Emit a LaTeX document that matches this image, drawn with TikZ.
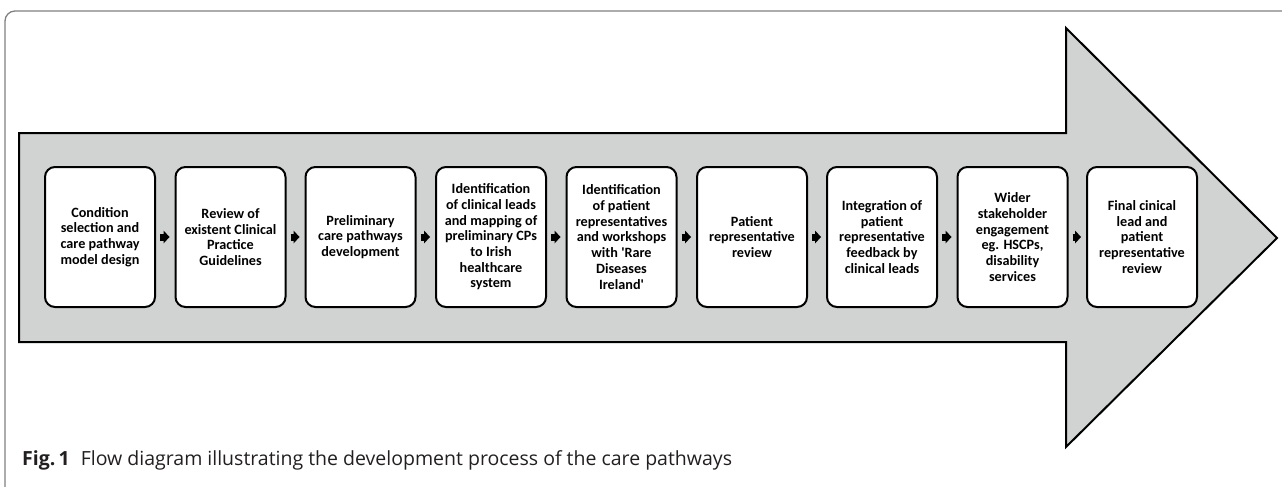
\documentclass[tikz,border=0pt]{standalone}
\usepackage{fontspec}
\setmainfont{Carlito}
\newfontfamily\capfont{Open Sans}
\usepackage{tikz}
\usetikzlibrary{arrows.meta,positioning}
\definecolor{shaftgray}{HTML}{D1D3D2}
\definecolor{framegray}{HTML}{808080}
\definecolor{captext}{HTML}{231F20}

\tikzset{
  stage/.style={draw, line width=2pt, fill=white, rounded corners=10pt,
    minimum width=110pt, minimum height=140pt, inner sep=0pt, align=center,
    font=\fontsize{14.2}{15.7}\selectfont\bfseries},
  flow/.style={line width=7pt, shorten <=4pt, shorten >=5pt,
    -{Triangle[length=6pt,width=13pt,line width=0pt]}},
}

\begin{document}
\begin{tikzpicture}[x=1pt,y=-1pt]
\useasboundingbox (0,0) rectangle (1282,487);
% frame and big arrow
\draw[framegray, line width=1.3pt, rounded corners=10pt] (1300,11) -- (5,11) -- (5,500);
\draw[line width=2pt, fill=shaftgray] (19,133) -- (1066,133) -- (1066,28) -- (1277,238)
  -- (1066,447) -- (1066,342) -- (19,342) -- cycle;

\node[stage] (cond) at (100,237) {Condition\\selection and\\care pathway\\model design};
\node[stage] (review) at (230.5,237) {Review of\\existent Clinical\\Practice\\Guidelines};
\node[stage] (prelim) at (360.5,237) {Preliminary\\care pathways\\development};
\node[stage] (leads) at (491,237) {Identification\\of clinical leads\\and mapping of\\preliminary CPs\\to Irish\\healthcare\\system};
\node[stage] (patid) at (621.5,237) {Identification\\of patient\\representatives\\and workshops\\with \textquotesingle Rare\\Diseases\\Ireland\textquotesingle};
\node[stage] (patrev) at (752,237) {Patient\\representative\\review};
\node[stage] (integ) at (882,237) {Integration of\\patient\\representative\\feedback by\\clinical leads};
\node[stage] (wider) at (1012.5,237) {Wider\\stakeholder\\engagement\\eg. HSCPs,\\disability\\services};
\node[stage] (final) at (1142,237) {Final cinical\\lead and\\patient\\representative\\review};

\draw[flow] (cond)--(review);
\draw[flow] (review)--(prelim);
\draw[flow] (prelim)--(leads);
\draw[flow] (leads)--(patid);
\draw[flow] (patid)--(patrev);
\draw[flow] (patrev)--(integ);
\draw[flow] (integ)--(wider);
\draw[flow] (wider)--(final);

% caption
\node[anchor=base west, inner sep=0pt, text=captext, font=\capfont\fontsize{19.5}{23}\selectfont] (cap) at (22,465)
  {\textbf{Fig.\,1}\hspace{11pt}Flow diagram illustrating the development process of the care pathways};
\end{tikzpicture}
\end{document}
